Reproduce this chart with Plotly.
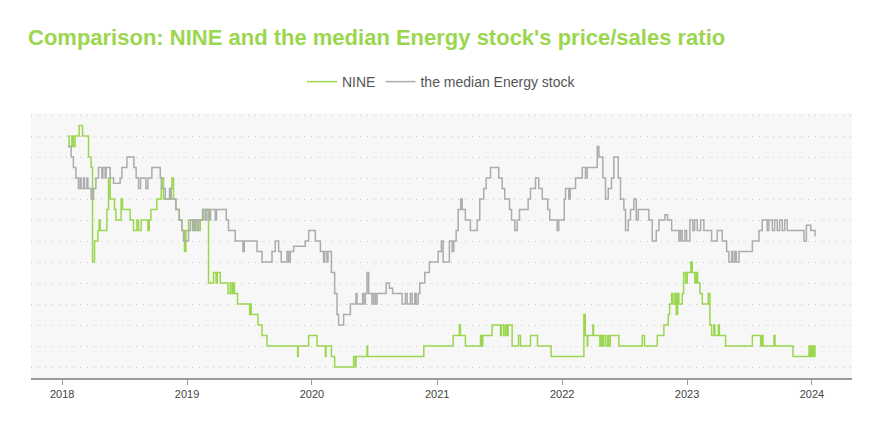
import pandas as pd
import plotly.graph_objects as go

# Dates as decimal years, values are price/sales levels (axis labels hidden in the original)
nine_t = [2018.046, 2018.056, 2018.078, 2018.090, 2018.104, 2018.136, 2018.163, 2018.211, 2018.232, 2018.243,
          2018.259, 2018.286, 2018.296, 2018.304, 2018.358, 2018.371, 2018.384, 2018.419, 2018.430, 2018.472,
          2018.483, 2018.544, 2018.571, 2018.598, 2018.611, 2018.632, 2018.686, 2018.697, 2018.710, 2018.758,
          2018.793, 2018.811, 2018.865, 2018.878, 2018.891, 2018.910, 2018.937, 2018.958, 2018.979, 2018.990,
          2019.011, 2019.051, 2019.065, 2019.091, 2019.105, 2019.131, 2019.171, 2019.211, 2019.231, 2019.241,
          2019.265, 2019.327, 2019.345, 2019.359, 2019.367, 2019.379, 2019.403, 2019.500, 2019.508, 2019.513,
          2019.567, 2019.599, 2019.639, 2019.884, 2019.889, 2019.972, 2020.039, 2020.106, 2020.111, 2020.154,
          2020.180, 2020.332, 2020.346, 2020.351, 2020.439, 2020.444, 2020.893, 2021.128, 2021.178, 2021.186,
          2021.226, 2021.347, 2021.355, 2021.365, 2021.440, 2021.507, 2021.515, 2021.533, 2021.547, 2021.560,
          2021.568, 2021.600, 2021.651, 2021.667, 2021.747, 2021.803, 2021.912, 2022.174, 2022.185, 2022.201,
          2022.205, 2022.246, 2022.251, 2022.302, 2022.310, 2022.321, 2022.331, 2022.347, 2022.363, 2022.371,
          2022.385, 2022.454, 2022.641, 2022.659, 2022.761, 2022.814, 2022.849, 2022.860, 2022.876, 2022.886,
          2022.902, 2022.913, 2022.924, 2022.934, 2022.961, 2022.972, 2022.988, 2023.001, 2023.030, 2023.041,
          2023.062, 2023.073, 2023.084, 2023.102, 2023.121, 2023.169, 2023.182, 2023.196, 2023.214, 2023.222,
          2023.250, 2023.258, 2023.308, 2023.522, 2023.588, 2023.596, 2023.607, 2023.695, 2023.703, 2023.847,
          2023.975, 2023.983, 2023.991, 2024.002, 2024.010, 2024.023, 2024.028]
nine_v = [11, 10.5, 11, 10.5, 11, 11.5, 11, 10, 9.5, 5,
          6, 6.5, 7, 6.5, 7.5, 9, 8, 7.5, 7, 8,
          7.5, 7, 6.5, 7, 6.5, 7, 6.5, 7, 7.5, 8,
          9, 8, 8.5, 9, 8, 7.5, 7, 6.5, 5.5, 6.5,
          7, 6.5, 7, 6.5, 7, 7.5, 4, 4.5, 4, 4.5,
          4, 3.5, 4, 3.5, 4, 3.5, 3, 2.5, 3, 2.5,
          2, 1.5, 1, 0.5, 1, 1.5, 1, 0.5, 1, 0.5,
          0, 0.5, 0, 0.5, 1, 0.5, 1, 1.5, 2, 1.5,
          1, 1.5, 1, 1.5, 2, 1.5, 2, 1.5, 2, 1.5,
          2, 1, 1.5, 1, 1.5, 1, 0.5, 2.5, 1.5, 1,
          1.5, 2, 1.5, 1, 1.5, 1, 1.5, 1, 1.5, 1,
          1.5, 1, 1.5, 1, 1.5, 2, 2.5, 3, 3.5, 3,
          3.5, 2.5, 3.5, 3, 3.5, 4.5, 4, 4.5, 5, 4.5,
          4, 4.5, 4, 3.5, 3, 3.5, 2, 1.5, 2, 1.5,
          2, 1.5, 1, 1.5, 1, 1.5, 1, 1.5, 1, 0.5,
          1, 0.5, 1, 0.5, 1, 0.5, 0.5]

median_t = [2018.046, 2018.072, 2018.090, 2018.110, 2018.130, 2018.144, 2018.152, 2018.171, 2018.179, 2018.198,
            2018.206, 2018.232, 2018.251, 2018.270, 2018.291, 2018.318, 2018.326, 2018.344, 2018.352, 2018.384,
            2018.411, 2018.464, 2018.478, 2018.518, 2018.574, 2018.592, 2018.611, 2018.627, 2018.670, 2018.686,
            2018.718, 2018.785, 2018.798, 2018.825, 2018.859, 2018.873, 2018.910, 2018.937, 2018.958, 2018.971,
            2019.011, 2019.025, 2019.043, 2019.059, 2019.078, 2019.091, 2019.123, 2019.145, 2019.158, 2019.177,
            2019.187, 2019.225, 2019.235, 2019.313, 2019.331, 2019.385, 2019.447, 2019.457, 2019.559, 2019.599,
            2019.679, 2019.705, 2019.732, 2019.753, 2019.799, 2019.812, 2019.825, 2019.852, 2019.945, 2019.972,
            2020.026, 2020.066, 2020.092, 2020.100, 2020.119, 2020.127, 2020.154, 2020.180, 2020.199, 2020.212,
            2020.252, 2020.306, 2020.351, 2020.359, 2020.404, 2020.412, 2020.426, 2020.439, 2020.452, 2020.479,
            2020.492, 2020.506, 2020.519, 2020.592, 2020.618, 2020.644, 2020.720, 2020.746, 2020.760, 2020.786,
            2020.800, 2020.821, 2020.832, 2020.848, 2020.861, 2020.901, 2020.938, 2021.008, 2021.034, 2021.048,
            2021.098, 2021.120, 2021.133, 2021.152, 2021.168, 2021.189, 2021.200, 2021.226, 2021.266, 2021.320,
            2021.341, 2021.373, 2021.392, 2021.427, 2021.493, 2021.520, 2021.541, 2021.579, 2021.595, 2021.621,
            2021.640, 2021.659, 2021.728, 2021.747, 2021.787, 2021.813, 2021.841, 2021.885, 2021.901, 2021.960,
            2021.973, 2022.017, 2022.027, 2022.053, 2022.065, 2022.107, 2022.161, 2022.187, 2022.201, 2022.281,
            2022.294, 2022.326, 2022.347, 2022.369, 2022.395, 2022.414, 2022.449, 2022.467, 2022.494, 2022.507,
            2022.529, 2022.547, 2022.574, 2022.593, 2022.609, 2022.694, 2022.721, 2022.753, 2022.774, 2022.822,
            2022.843, 2022.876, 2022.934, 2022.947, 2022.961, 2022.982, 2022.996, 2023.022, 2023.046, 2023.060,
            2023.081, 2023.108, 2023.134, 2023.196, 2023.241, 2023.281, 2023.316, 2023.334, 2023.356, 2023.366,
            2023.382, 2023.394, 2023.415, 2023.522, 2023.575, 2023.601, 2023.641, 2023.654, 2023.681, 2023.700,
            2023.721, 2023.740, 2023.761, 2023.780, 2023.801, 2023.935, 2023.954, 2023.989, 2024.023, 2024.028]
median_v = [10.5, 10, 9.5, 9, 8.5, 9, 8.5, 9, 8.5, 9,
            8.5, 8, 8.5, 9, 9.5, 9, 9.5, 9, 9.5, 9,
            8.75, 9, 9.5, 10, 9.5, 9, 8.5, 9, 8.5, 9,
            9.5, 9, 8.5, 8, 8.5, 8, 7.5, 7, 6.5, 6,
            6.5, 7, 6.5, 7, 6.5, 7, 7.5, 7, 7.5, 7,
            7.5, 7, 7.5, 7, 6.5, 6, 5.5, 6, 5.5, 5,
            5.5, 6, 5.5, 5, 5.5, 5, 5.5, 5.75, 6, 6.5,
            6, 5.5, 5, 5.5, 5, 5.5, 4.5, 3.5, 2.5, 2,
            2.5, 3, 3.5, 3, 3.5, 3, 3.5, 4.5, 3.5, 3,
            3.5, 3, 3.5, 4, 3.75, 3.5, 3, 3.5, 3, 3.5,
            3, 3.5, 3, 3.5, 4, 4.5, 5, 5.5, 6, 5,
            6, 5.5, 6, 6.5, 7.5, 8, 7.5, 7, 6.5, 7,
            8, 8.5, 9, 9.5, 9, 8.5, 8, 7.5, 7, 6.5,
            7, 7.5, 8, 8.5, 9, 8.5, 8, 7.5, 7, 6.5,
            7, 8, 8.5, 8, 8.5, 9, 9.5, 9, 9.5, 10.5,
            10, 9, 8, 8.5, 9, 10, 9, 8, 7.5, 6.5,
            7, 7.5, 8, 7, 7.5, 7, 6, 6.5, 7, 7.25,
            7, 6.5, 6, 6.5, 6, 6.5, 6, 7, 6.5, 7,
            6.5, 7, 6.5, 6, 6.5, 6, 5.5, 5, 5.5, 5,
            5.5, 5, 5.5, 6, 6.5, 7, 6.5, 7, 6.5, 7,
            6.5, 7, 6.5, 7, 6.5, 6, 6.75, 6.5, 6.25, 6.25]

grid_levels = list(range(0, 13))
x_ticks = ["2018", "2019", "2020", "2021", "2022", "2023", "2024"]


def to_dates(years):
    base = pd.Timestamp("2018-01-01")
    return [base + pd.Timedelta(days=(y - 2018) * 365.25) for y in years]


GREEN = "#9bd64f"
GRAY = "#abacae"

fig = go.Figure()
fig.add_trace(go.Scatter(x=to_dates(nine_t), y=nine_v, name="NINE", mode="lines",
                         line=dict(color=GREEN, width=1.5, shape="hv")))
fig.add_trace(go.Scatter(x=to_dates(median_t), y=median_v, name="the median Energy stock", mode="lines",
                         line=dict(color=GRAY, width=1.5, shape="hv")))

# the page body adds an 8px offset, margins compensate for it
fig.update_layout(
    width=880, height=440,
    margin=dict(l=23, r=36, t=105, b=70),
    paper_bgcolor="white",
    plot_bgcolor="#f7f7f7",
    font=dict(family="Liberation Sans, Arial, sans-serif", color="#444"),
    title=dict(text="<b>Comparison: NINE and the median Energy stock's price/sales ratio</b>",
               x=20 / 880, xanchor="left", y=1 - 29 / 440, yanchor="middle",
               font=dict(size=22, color=GREEN, family="Liberation Sans, Arial, sans-serif")),
    legend=dict(orientation="h", x=0.5, xanchor="center", y=(378 - 82) / 265, yanchor="middle",
                font=dict(size=14, color="#555"), bgcolor="rgba(0,0,0,0)", itemwidth=30),
    showlegend=True,
)
fig.update_xaxes(
    type="date",
    range=["2017-10-02", "2024-04-27"],
    tickvals=[pd.Timestamp(t + "-01-01") for t in x_ticks],
    ticktext=x_ticks,
    showgrid=False, zeroline=False,
    showline=True, linecolor="#999", linewidth=2,
    ticks="outside", ticklen=5, tickcolor="#999", tickwidth=1,
    tickfont=dict(size=11, color="#444"),
)
fig.update_yaxes(
    range=[-0.52, 12.1],
    tickvals=grid_levels,
    showticklabels=False,
    showgrid=True, gridcolor="#c8c8c8", gridwidth=1, griddash="1px,6px",
    zeroline=False, showline=False,
)

fig.write_html("out.html")
